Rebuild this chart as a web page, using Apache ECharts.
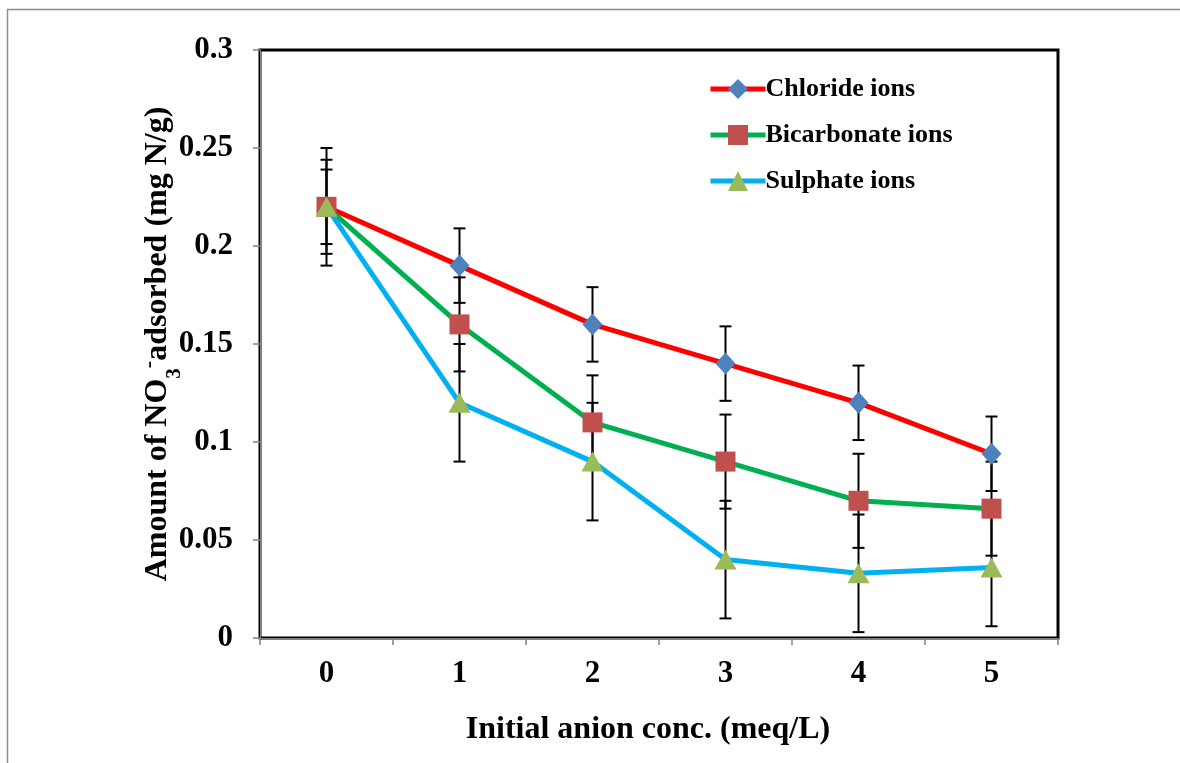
<!DOCTYPE html>
<html>
<head>
<meta charset="utf-8">
<script src="https://cdn.jsdelivr.net/npm/echarts@6/dist/echarts.min.js"></script>
<style>
html,body{margin:0;padding:0;background:#fff;}
#chart{width:1180px;height:763px;}
</style>
</head>
<body>
<div id="chart"></div>
<script>
const categories = ['0', '1', '2', '3', '4', '5'];
const chloride = [0.22, 0.19, 0.16, 0.14, 0.12, 0.094];
const bicarbonate = [0.22, 0.16, 0.11, 0.09, 0.07, 0.066];
const sulphate = [0.22, 0.12, 0.09, 0.04, 0.033, 0.036];
const chlorideErr = [0.019, 0.019, 0.019, 0.019, 0.019, 0.019];
const bicarbonateErr = [0.024, 0.024, 0.024, 0.024, 0.024, 0.024];
const sulphateErr = [0.03, 0.03, 0.03, 0.03, 0.03, 0.03];
const seriesNames = ['Chloride ions', 'Bicarbonate ions', 'Sulphate ions'];
const yMin = 0, yMax = 0.3, yInterval = 0.05;

const FONT = '"Liberation Serif", "Times New Roman", serif';

function errData(vals, errs) {
  return vals.map((v, i) => [i, v - errs[i], v + errs[i]]);
}

function renderErr(params, api) {
  const x = api.value(0);
  const lo = api.coord([x, api.value(1)]);
  const hi = api.coord([x, api.value(2)]);
  const hw = 6;
  const style = { stroke: '#000', lineWidth: 2 };
  return {
    type: 'group',
    children: [
      { type: 'line', shape: { x1: lo[0], y1: lo[1], x2: hi[0], y2: hi[1] }, style: style },
      { type: 'line', shape: { x1: hi[0] - hw, y1: hi[1], x2: hi[0] + hw, y2: hi[1] }, style: style },
      { type: 'line', shape: { x1: lo[0] - hw, y1: lo[1], x2: lo[0] + hw, y2: lo[1] }, style: style }
    ]
  };
}

const chart = echarts.init(document.getElementById('chart'), null, { renderer: 'canvas' });

const lineColors = ['#FF0000', '#00B050', '#00B0F0'];
const markerColors = ['#4F81BD', '#C0504D', '#9BBB59'];
const symbols = ['diamond', 'rect', 'triangle'];
const symbolSizes = [[20, 22], [20, 20], [22, 20]];
const values = [chloride, bicarbonate, sulphate];
const errs = [chlorideErr, bicarbonateErr, sulphateErr];

const series = [];
for (let k = 0; k < 3; k++) {
  series.push({
    type: 'custom',
    name: seriesNames[k] + ' err',
    renderItem: renderErr,
    data: errData(values[k], errs[k]),
    encode: { x: 0, y: [1, 2] },
    z: 1,
    silent: true
  });
}
for (let k = 0; k < 3; k++) {
  series.push({
    type: 'line',
    name: seriesNames[k],
    data: values[k],
    symbol: symbols[k],
    symbolSize: symbolSizes[k],
    showAllSymbol: true,
    lineStyle: { color: lineColors[k], width: 5 },
    itemStyle: { color: markerColors[k], opacity: 1 },
    z: 3 + k,
    animation: false
  });
}

const option = {
  animation: false,
  backgroundColor: '#fff',
  graphic: [{
    type: 'rect',
    shape: { x: 7.5, y: 9.5, width: 1400, height: 900 },
    style: { fill: 'none', stroke: '#8c8c8c', lineWidth: 1.5 },
    silent: true
  }],
  grid: {
    left: 260, right: 122, top: 50, bottom: 125,
    show: true, borderColor: '#000', borderWidth: 3, backgroundColor: 'transparent'
  },
  legend: {
    data: seriesNames,
    orient: 'vertical',
    left: 703,
    top: 71,
    itemWidth: 55,
    itemHeight: 25,
    itemGap: 20,
    lineStyle: { width: 5 },
    textStyle: { fontFamily: FONT, fontWeight: 'bold', fontSize: 26, color: '#000', padding: [0, 0, 0, -5] }
  },
  xAxis: {
    type: 'category',
    data: categories,
    boundaryGap: true,
    axisLine: { show: true, lineStyle: { color: '#808080', width: 1 } },
    axisTick: { show: true, alignWithLabel: false, length: 7, lineStyle: { color: '#808080', width: 1.5 } },
    axisLabel: { fontFamily: FONT, fontWeight: 'bold', fontSize: 31, color: '#000', margin: 20 },
    splitLine: { show: false },
    name: 'Initial anion conc. (meq/L)',
    nameLocation: 'middle',
    nameGap: 76,
    nameMoveOverlap: false,
    nameTextStyle: { fontFamily: FONT, fontWeight: 'bold', fontSize: 32, color: '#000', padding: [0, 22, 0, 0] }
  },
  yAxis: {
    type: 'value',
    min: yMin, max: yMax, interval: yInterval,
    axisLine: { show: true, lineStyle: { color: '#808080', width: 1 } },
    axisTick: { show: true, length: 7, lineStyle: { color: '#808080', width: 1.5 } },
    axisLabel: { fontFamily: FONT, fontWeight: 'bold', fontSize: 31, color: '#000', margin: 27 },
    splitLine: { show: false },
    name: 'Amount of NO{sub|3}{sup|-}adsorbed (mg N/g)',
    nameLocation: 'middle',
    nameGap: 82,
    nameMoveOverlap: false,
    nameTextStyle: {
      fontFamily: FONT, fontWeight: 'bold', fontSize: 32, color: '#000', lineHeight: 40,
      rich: {
        sub: { fontFamily: FONT, fontWeight: 'bold', fontSize: 21, color: '#000', verticalAlign: 'bottom', lineHeight: 40, padding: [0, 0, -7, 0] },
        sup: { fontFamily: FONT, fontWeight: 'bold', fontSize: 22, color: '#000', verticalAlign: 'top', lineHeight: 40, padding: [0, 0, 0, 0] }
      }
    }
  },
  series: series
};
chart.setOption(option);
</script>
</body>
</html>
